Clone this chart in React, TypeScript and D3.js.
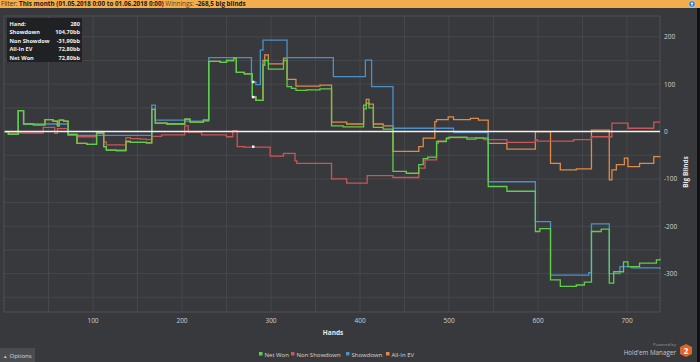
import React from "react";
import * as d3 from "d3";

// [hand, big blinds] step points
const netWon: [number, number][] = [
  [0, 0], [5, -6], [16, 44], [22, 16], [33, 14], [46, 25], [55, 22], [60, 12], [62, 24], [67, 22],
  [72, -6], [82, -25], [93, -27], [104, -3], [112, -32], [115, -39], [126, -40], [137, -21], [142, -23],
  [160, -24], [166, 47], [170, 18], [183, 16], [203, 26], [209, 20], [224, 24], [230, 148], [243, 146],
  [250, 150], [258, 155], [261, 125], [270, 122], [279, 73], [283, 66], [291, 140], [293, 150], [297, 132],
  [314, 150], [318, 95], [323, 91], [328, 87], [340, 88], [355, 90], [368, 12], [381, 10], [404, 48],
  [407, 60], [410, 50], [415, 9], [426, 5], [437, -84], [452, -88], [466, -70], [471, -57], [476, -54],
  [486, -21], [497, -15], [500, -12], [520, -16], [530, -14], [544, -116], [565, -126], [597, -211],
  [602, -205], [614, -313], [625, -327], [643, -324], [652, -318], [660, -211], [671, -206], [680, -320],
  [685, -296], [696, -275], [701, -285], [714, -278], [733, -271], [737, -268.5],
];

const showdown: [number, number][] = [
  [0, 0], [5, -6], [16, 44], [22, 16], [72, -8], [166, 56], [170, 24], [203, 22], [230, 156], [278, 105],
  [283, 99], [288, 172], [291, 193], [318, 156], [370, 116], [406, 151], [413, 95], [437, 7], [505, -2],
  [544, -106], [597, -190], [614, -303], [657, -298], [660, -195], [680, -300], [692, -285], [705, -288],
  [737, -290],
];

const nonShowdown: [number, number][] = [
  [0, 0], [5, -3], [44, 9], [57, -4], [60, 6], [72, -8], [82, -11], [104, -2], [112, -22], [115, -28],
  [137, -13], [142, -15], [153, -16], [160, -17], [166, -10], [177, -7], [203, 12], [207, -1], [222, -7],
  [250, -11], [257, 2], [262, -32], [270, -33], [299, -52], [314, -46], [327, -62], [329, -67], [368, -100],
  [385, -109], [408, -93], [437, -97], [466, -77], [473, -60], [486, -25], [488, -20], [497, -13],
  [539, -17], [565, -23], [597, -17], [599, -20], [640, -17], [660, -11], [683, 18], [701, 7], [730, 20],
  [737, 20],
];

const allInEv: [number, number][] = [
  [0, 0], [5, -6], [16, 44], [22, 16], [33, 14], [46, 25], [55, 22], [60, 12], [62, 24], [67, 22],
  [72, -6], [82, -25], [93, -27], [104, -3], [112, -32], [115, -39], [126, -40], [137, -21], [142, -23],
  [160, -24], [166, 47], [170, 18], [183, 16], [203, 26], [209, 20], [224, 24], [230, 148], [243, 146],
  [250, 150], [258, 155], [261, 125], [270, 122], [279, 73], [283, 66], [291, 150], [293, 162], [297, 143],
  [314, 155], [318, 110], [328, 96], [355, 98], [368, 20], [385, 16], [404, 56], [407, 68], [410, 58],
  [415, 16], [426, 12], [437, -42], [466, -32], [471, -14], [484, 21], [486, 25], [499, 31], [505, 25],
  [524, 28], [533, 24], [544, -25], [565, -37], [597, 0], [614, -67], [625, -81], [643, -79], [660, 3],
  [680, -102], [683, -81], [688, -70], [697, -56], [701, -74], [714, -67], [730, -53], [737, -52],
];

const xTicks = [100, 200, 300, 400, 500, 600, 700];
const yTicks = [200, 100, 0, -100, -200, -300];

const hoverHand = 280;
const tooltipRows = [
  ["Hand:", "280"],
  ["Showdown", "104,70bb"],
  ["Non Showdow", "-31,90bb"],
  ["All-In EV", "72,80bb"],
  ["Net Won", "72,80bb"],
];
const hoverValues = [104.7, -31.9, 72.8];

const series = [
  { name: "All-In EV", data: allInEv, color: "#e08b45" },
  { name: "Non Showdown", data: nonShowdown, color: "#c9565a" },
  { name: "Showdown", data: showdown, color: "#4b91c9" },
  { name: "Net Won", data: netWon, color: "#5fce48" },
];
const legendOrder = ["Net Won", "Non Showdown", "Showdown", "All-In EV"];

const W = 700;
const H = 362;
const font = "'Open Sans', 'Noto Sans', sans-serif";

export default function App() {
  const left = 4, right = 660, top = 16, bottom = 312;
  const x = d3.scaleLinear().domain([0, 737]).range([left, right]);
  const y = d3.scaleLinear().domain([-381, 244]).range([bottom, top]);

  const line = d3
    .line<[number, number]>()
    .x((d) => x(d[0]))
    .y((d) => y(d[1]))
    .curve(d3.curveStepAfter);

  const gridX = d3.range(50, 737, 50);
  const gridY = d3.range(-350, 244, 50);

  const legendX = [259, 291, 346, 386];

  return (
    <svg width={W} height={H} style={{ position: "absolute", left: 0, top: 0, display: "block" }} fontFamily={font}>
      <rect width={W} height={H} fill="#38393c" />
      {/* header bar */}
      <rect width={W} height={8} fill="#f2ad4c" />
      <text x={1} y={6} fontSize={6.3} fill="#3a2a10">
        Filter: <tspan fontWeight="bold" fill="#1a1a1a">This month (01.05.2018 0:00 to 01.06.2018 0:00)</tspan>
        <tspan fill="#5a4520"> Winnings: </tspan>
        <tspan fontWeight="bold" fill="#1a1a1a">-268,5 big blinds</tspan>
      </text>
      <circle cx={692} cy={4} r={3.3} fill="#2f78c4" stroke="#dfe8f2" strokeWidth={0.6} />
      <path d="M692,2 L690.5,4 L693.5,4 Z M691.5,4 h1 v1.8 h-1 Z" fill="#fff" />

      {/* grid */}
      <g stroke="#46484c" strokeWidth={1}>
        {gridX.map((g) => (
          <line key={"gx" + g} x1={x(g)} x2={x(g)} y1={top} y2={bottom} />
        ))}
        {gridY.map((g) => (
          <line key={"gy" + g} x1={left} x2={right} y1={y(g)} y2={y(g)} />
        ))}
      </g>
      <rect x={left} y={top} width={right - left} height={bottom - top} fill="none" stroke="#4e5054" />

      {/* series */}
      {series.map((s) => (
        <path key={s.name} d={line(s.data) ?? ""} fill="none" stroke={s.color} strokeWidth={1.3} />
      ))}
      <line x1={left + 1} x2={right} y1={y(0)} y2={y(0)} stroke="#f2f2f2" strokeWidth={1.6} />

      {/* hover markers */}
      {hoverValues.map((v, i) => (
        <rect key={i} x={x(hoverHand) - 1.2} y={y(v) - 1.2} width={2.4} height={2.4} fill="#fff" />
      ))}

      {/* axes labels */}
      {xTicks.map((t) => (
        <text key={"xt" + t} x={x(t)} y={323} fontSize={6.5} fill="#d0d0d0" textAnchor="middle">
          {t}
        </text>
      ))}
      {yTicks.map((t) => (
        <text key={"yt" + t} x={664} y={y(t) + 2.5} fontSize={6.5} fill="#d0d0d0">
          {t}
        </text>
      ))}
      <text x={333} y={335} fontSize={6.5} fontWeight="bold" fill="#e8e8e8" textAnchor="middle">
        Hands
      </text>
      <text
        transform={`translate(688,${(top + bottom) / 2 + 8}) rotate(-90)`}
        fontSize={6.5}
        fontWeight="bold"
        fill="#e8e8e8"
        textAnchor="middle"
      >
        Big Blinds
      </text>

      {/* tooltip */}
      <rect x={7} y={18} width={75} height={44} fill="#1f2022" opacity={0.95} />
      {tooltipRows.map((r, i) => (
        <g key={r[0]} fontSize={5.6} fontWeight="bold" fill="#f0f0f0">
          <text x={9.5} y={25.5 + i * 8.5}>{r[0]}</text>
          <text x={80} y={25.5 + i * 8.5} textAnchor="end">{r[1]}</text>
        </g>
      ))}

      {/* legend */}
      {legendOrder.map((name, i) => {
        const s = series.find((d) => d.name === name)!;
        return (
          <g key={name}>
            <rect x={legendX[i]} y={352} width={3.5} height={3.5} fill={s.color} />
            <text x={legendX[i] + 5.5} y={356.5} fontSize={6} fill="#d8d8d8">
              {name}
            </text>
          </g>
        );
      })}

      {/* options button */}
      <rect x={0} y={348} width={35} height={14} fill="#4a4c50" />
      <text x={3} y={357.5} fontSize={4.5} fill="#ccc">▲</text>
      <text x={9.5} y={357.5} fontSize={6} fill="#d8d8d8">Options</text>

      {/* powered by */}
      <text x={676} y={346} fontSize={4.2} fill="#9a9a9a" textAnchor="end">Powered by</text>
      <text x={676} y={355} fontSize={6.3} fill="#c8c8c8" textAnchor="end">Hold'em Manager</text>
      <path d="M684,344 L690,347 L690,354 L684,357 L678,354 L678,347 Z" fill="#e0652a" transform="translate(2,0)" />
      <text x={686} y={354} fontSize={8} fontWeight="bold" fill="#fff" textAnchor="middle">2</text>
      <rect x={697} y={8} width={3} height={H - 8} fill="#101010" />
    </svg>
  );
}
